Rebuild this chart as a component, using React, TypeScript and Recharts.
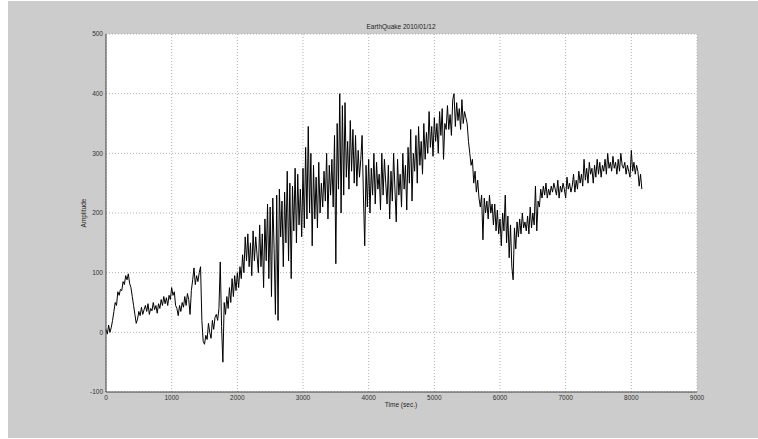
import React from 'react';
import { LineChart, Line, XAxis, YAxis, CartesianGrid } from 'recharts';

// seismograph amplitude, one reading every 20 s starting at t = 0
const sampleStep = 20;
const amplitude: number[] = [
  5, -3, 12, 0, 8, 20, 35, 50, 45, 68,
  62, 72, 70, 85, 80, 95, 88, 98, 82, 75,
  60, 45, 30, 15, 22, 35, 28, 42, 30, 38,
  45, 35, 48, 30, 40, 36, 50, 38, 45, 32,
  48, 40, 55, 45, 60, 48, 58, 45, 62, 55,
  75, 62, 68, 45, 40, 28, 45, 35, 50, 42,
  60, 45, 65, 55, 30, 70, 88, 108, 80, 95,
  85, 100, 110, 20, -15, -20, -5, -12, 15, 0,
  -10, 20, 5, 25, 30, 20, 40, 118, 10, -50,
  50, 30, 60, 40, 75, 50, 90, 60, 95, 70,
  100, 75, 110, 90, 130, 100, 160, 120, 165, 110,
  150, 95, 170, 120, 160, 130, 100, 180, 110, 165,
  75, 190, 120, 215, 90, 210, 60, 225, 140, 30,
  230, 20, 240, 160, 220, 110, 235, 150, 270, 120,
  250, 90, 245, 170, 275, 150, 265, 180, 240, 160,
  275, 175, 310, 190, 345, 200, 300, 145, 280, 190,
  260, 175, 285, 200, 250, 210, 270, 220, 300, 190,
  280, 230, 290, 210, 330, 115, 350, 240, 400, 200,
  380, 230, 385, 260, 320, 240, 355, 270, 340, 250,
  330, 245, 305, 260, 290, 330, 230, 145, 280, 210,
  290, 200, 275, 230, 300, 215, 285, 240, 265, 205,
  300, 230, 290, 250, 215, 280, 190, 270, 220, 300,
  240, 185, 290, 230, 265, 210, 300, 240, 280, 205,
  310, 250, 340, 220, 300, 270, 330, 250, 345, 280,
  320, 265, 350, 290, 335, 300, 370, 310, 345, 295,
  360, 320, 350, 300, 370, 330, 375, 290, 350, 340,
  380, 340, 365, 330, 390, 400, 345, 385, 355, 375,
  340, 390, 350, 370, 360, 350, 320, 300, 280, 290,
  250, 270, 235, 255, 225, 210, 230, 155, 225, 200,
  220, 190, 230, 200, 215, 180, 215, 170, 205, 165,
  190, 145, 200, 170, 230, 150, 195, 125, 180, 110,
  88, 175, 140, 185, 160, 190, 165, 200, 175, 185,
  170, 195, 165, 210, 175, 200, 180, 245, 170, 220,
  210, 240, 225, 245, 230, 250, 225, 240, 230, 245,
  235, 250, 240, 230, 255, 225, 245, 235, 250, 240,
  225, 260, 240, 250, 235, 245, 265, 235, 255, 240,
  270, 250, 265, 245, 290, 255, 275, 250, 285, 265,
  275, 250, 280, 260, 290, 265, 285, 260, 280, 270,
  290, 265, 300, 275, 285, 270, 295, 275, 285, 265,
  290, 270, 300, 280, 275, 285, 265, 280, 270, 260,
  305, 270, 285, 265, 280, 270, 245, 265, 240,
];

const xTicks = [0, 1000, 2000, 3000, 4000, 5000, 6000, 7000, 8000, 9000];
const yTicks = [-100, 0, 100, 200, 300, 400, 500];

const data = amplitude.map((v, i) => ({ t: i * sampleStep, amp: v }));

const tickStyle = { fontSize: 6.5, fill: '#333', fontFamily: 'Liberation Sans, Arial, sans-serif' };
const labelStyle: React.CSSProperties = {
  position: 'absolute',
  fontSize: 6.5,
  color: '#222',
  fontFamily: 'Liberation Sans, Arial, sans-serif',
  whiteSpace: 'nowrap',
  lineHeight: '8px',
};
const noLabel = () => <g />;
const boxLine = { stroke: '#444' };
const inTick = { stroke: '#444' };

export default function App() {
  return (
    <div style={{ position: 'absolute', left: 0, top: 0, width: 758, height: 439, background: '#fff' }}>
      <div style={{ position: 'absolute', left: 8, top: 1, width: 750, height: 437, background: '#cccccc' }} />
      <div style={{ ...labelStyle, left: 301, width: 200, top: 23, textAlign: 'center' }}>EarthQuake 2010/01/12</div>
      <div style={{ ...labelStyle, left: 301, width: 200, top: 401, textAlign: 'center' }}>Time (sec.)</div>
      <div style={{ ...labelStyle, left: 44, width: 80, top: 209, textAlign: 'center', transform: 'rotate(-90deg)' }}>Amplitude</div>
      <div style={{ position: 'absolute', left: 0, top: 0 }}>
        <LineChart width={758} height={439} data={data} margin={{ top: 34, right: 61, bottom: 27, left: 76 }}>
          <CartesianGrid stroke="#b0b0b0" strokeDasharray="1 2" fill="#fff" />
          <XAxis
            dataKey="t"
            type="number"
            domain={[0, 9000]}
            ticks={xTicks}
            interval={0}
            height={20}
            tick={tickStyle}
            tickLine={false}
            tickSize={0}
            tickMargin={3}
            axisLine={boxLine}
          />
          {/* inward tick marks on all four sides, matlab style */}
          <XAxis xAxisId="bt" orientation="bottom" mirror type="number" domain={[0, 9000]} ticks={xTicks} height={0} tick={noLabel} tickLine={inTick} tickSize={4} axisLine={false} />
          <XAxis xAxisId="top" orientation="top" mirror type="number" domain={[0, 9000]} ticks={xTicks} height={0} tick={noLabel} tickLine={inTick} tickSize={4} axisLine={boxLine} />
          <YAxis
            type="number"
            domain={[-100, 500]}
            ticks={yTicks}
            interval={0}
            width={30}
            tick={tickStyle}
            tickLine={false}
            tickSize={0}
            tickMargin={3}
            axisLine={boxLine}
          />
          <YAxis yAxisId="lt" orientation="left" mirror type="number" domain={[-100, 500]} ticks={yTicks} width={0} tick={noLabel} tickLine={inTick} tickSize={4} axisLine={false} />
          <YAxis yAxisId="right" orientation="right" mirror type="number" domain={[-100, 500]} ticks={yTicks} width={0} tick={noLabel} tickLine={inTick} tickSize={4} axisLine={boxLine} />
          <Line type="linear" dataKey="amp" stroke="#000" strokeWidth={1} dot={false} isAnimationActive={false} />
        </LineChart>
      </div>
    </div>
  );
}
